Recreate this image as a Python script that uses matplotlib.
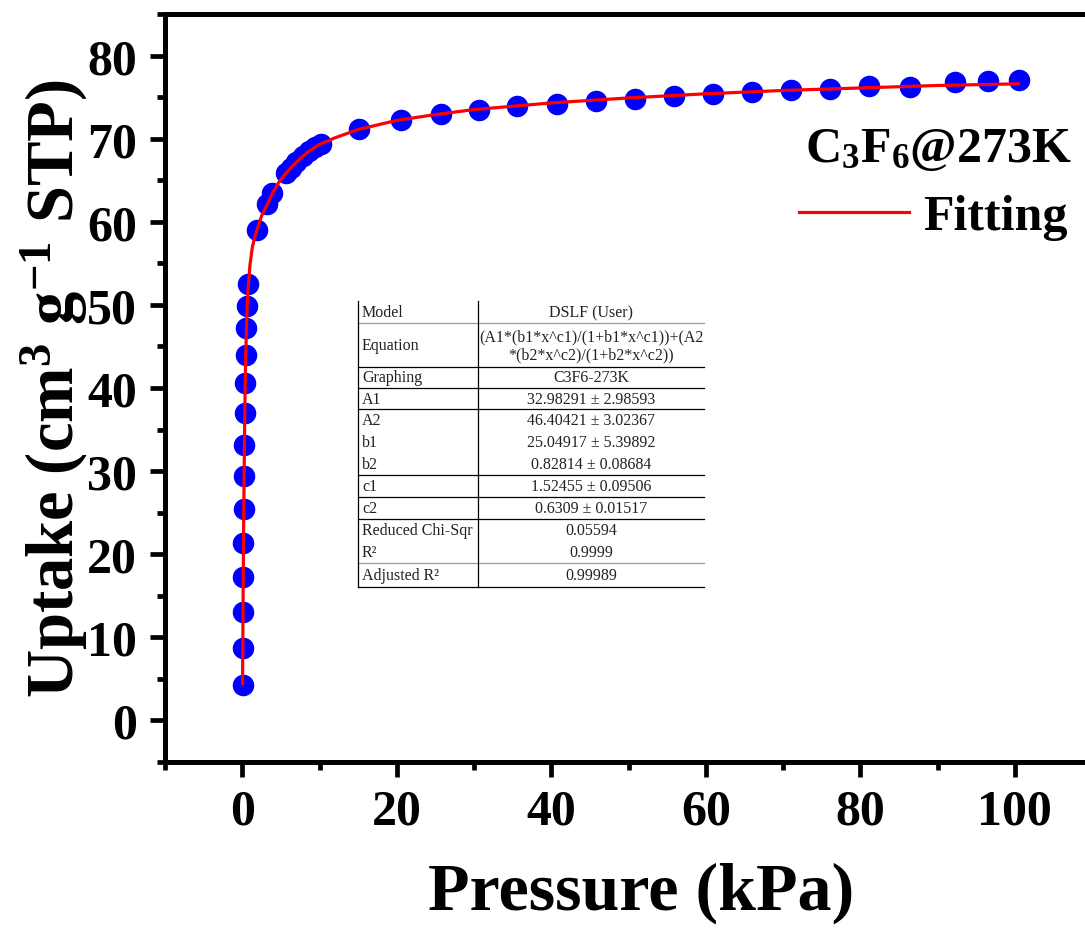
import matplotlib
matplotlib.use("Agg")
import matplotlib.pyplot as plt
from matplotlib.lines import Line2D
from matplotlib.ticker import MultipleLocator

pressure = [0.04, 0.07, 0.1, 0.13, 0.16, 0.2, 0.24, 0.28, 0.33, 0.38, 0.45, 0.55, 0.65, 0.8,
            1.9, 3.2, 3.9, 5.6, 6.3, 7.0, 7.8, 8.7, 9.4, 10.2, 15.1, 20.5, 25.7, 30.7, 35.6,
            40.7, 45.8, 50.8, 55.9, 60.9, 66.0, 71.0, 76.1, 81.1, 86.4, 92.3, 96.5, 100.5]
uptake = [4.3, 8.7, 13.0, 17.2, 21.3, 25.4, 29.4, 33.2, 37.0, 40.6, 44.0, 47.2, 49.9, 52.5,
          59.0, 62.1, 63.5, 65.9, 66.5, 67.2, 67.9, 68.5, 69.0, 69.4, 71.2, 72.2, 73.0, 73.4, 73.9,
          74.2, 74.5, 74.8, 75.1, 75.4, 75.6, 75.8, 76.0, 76.3, 76.2, 76.8, 76.9, 77.0]

# fitted DSLF curve
fit_p = [0.04, 0.07, 0.1, 0.13, 0.16, 0.2, 0.24, 0.28, 0.33, 0.38, 0.45, 0.55, 0.65, 0.8, 1.0,
         1.3, 1.6, 1.9, 2.5, 3.2, 3.9, 4.7, 5.6, 6.5, 7.5, 8.5, 10, 12, 15, 20, 25, 30, 35, 40,
         50, 60, 70, 80, 90, 100.5]
fit_u = [4.4, 8.7, 13.0, 17.2, 21.3, 25.4, 29.4, 33.2, 37.0, 40.6, 44.0, 47.2, 49.9, 52.5, 54.8,
         56.9, 58.1, 59.0, 60.7, 62.0, 63.4, 64.7, 65.8, 66.7, 67.6, 68.4, 69.3, 70.1, 71.1, 72.2,
         72.9, 73.5, 73.9, 74.3, 74.9, 75.4, 75.8, 76.1, 76.4, 76.6]

xticks = [0, 20, 40, 60, 80, 100]
yticks = [0, 10, 20, 30, 40, 50, 60, 70, 80]

table_names = ["Model", "Equation", "Graphing", "A1", "A2", "b1", "b2", "c1", "c2",
               "Reduced Chi-Sqr", "R\u00b2", "Adjusted R\u00b2"]
table_values = ["DSLF (User)", "(A1*(b1*x^c1)/(1+b1*x^c1))+(A2\n*(b2*x^c2)/(1+b2*x^c2))",
                "C3F6-273K", "32.98291 \u00b1 2.98593", "46.40421 \u00b1 3.02367",
                "25.04917 \u00b1 5.39892", "0.82814 \u00b1 0.08684", "1.52455 \u00b1 0.09506",
                "0.6309 \u00b1 0.01517", "0.05594", "0.9999", "0.99989"]

plt.rcParams['font.family'] = ['Liberation Serif', 'DejaVu Serif']
plt.rcParams['font.weight'] = 'bold'
plt.rcParams['mathtext.fontset'] = 'custom'
plt.rcParams['mathtext.rm'] = 'Liberation Serif:bold'
plt.rcParams['mathtext.bf'] = 'Liberation Serif:bold'
plt.rcParams['mathtext.it'] = 'Liberation Serif:bold'

W, H = 1085, 929
fig = plt.figure(figsize=(W / 100, H / 100), dpi=100)
ax = fig.add_axes([165 / W, 1 - 763 / H, (1092 - 165) / W, (763 - 15) / H])

ax.plot(pressure, uptake, 'o', color='#0000ff', markersize=14.5, zorder=2)
fit_line, = ax.plot(fit_p, fit_u, '-', color='#ff0000', linewidth=2.3, zorder=3)

ax.set_xlim(-10, 110)
ax.set_ylim(-5, 85)
ax.set_xticks(xticks)
ax.set_yticks(yticks)
ax.xaxis.set_minor_locator(MultipleLocator(10))
ax.yaxis.set_minor_locator(MultipleLocator(5))
ax.tick_params(which='major', direction='out', length=11, width=3.4, labelsize=36, pad=8)
ax.tick_params(which='minor', direction='out', length=6, width=3.4)
ax.tick_params(axis='y', pad=9)
for s in ax.spines.values():
    s.set_linewidth(3.6)

ax.set_xlabel("Pressure (kPa)", fontsize=49, fontweight='bold')
ax.xaxis.set_label_coords((641 - 165) / 927, -(893 - 763) / 748)
ax.xaxis.label.set_va('center')
ax.set_ylabel("Uptake (cm$^{3}$ g$^{-1}$ STP)", fontsize=48, fontweight='bold')
ax.yaxis.set_label_coords(-(165 - 54) / 927, 0.5)
ax.yaxis.label.set_va('center')

fig.text(1072 / W, 1 - 150 / H, r"C$_{3}$F$_{6}$@273K", fontsize=36, fontweight='bold',
         ha='right', va='center')
ax.legend([fit_line], ["Fitting"], loc='center right', bbox_to_anchor=(1068 / W, 1 - 218 / H),
          bbox_transform=fig.transFigure, frameon=False, fontsize=36, handlelength=2.2,
          handletextpad=0.3, borderaxespad=0, borderpad=0)

# fit report table
def fx(px):
    return px / W

def fy(py):
    return 1 - py / H

x0, xmid, x1 = 358, 478, 704
row_tops = [302, 324, 368, 389, 410, 432, 454, 476, 498, 520, 542, 564, 588]
ruled = {0: '#999999', 1: 'black', 2: 'black', 3: 'black', 6: 'black', 7: 'black',
         8: 'black', 10: '#999999', 11: 'black'}
for i, name in enumerate(table_names):
    yc = (row_tops[i] + row_tops[i + 1]) / 2
    fig.text(fx(x0 + 4), fy(yc), name, fontsize=11.5, fontweight='normal', ha='left',
             va='center', color='#222222')
    fig.text(fx((xmid + x1) / 2), fy(yc), table_values[i], fontsize=11.5, fontweight='normal',
             ha='center', va='center', color='#222222', linespacing=1.15)
    if i in ruled:
        yb = row_tops[i + 1]
        fig.add_artist(Line2D([fx(x0), fx(x1)], [fy(yb), fy(yb)], color=ruled[i], linewidth=0.9))
for xv in (x0, xmid):
    fig.add_artist(Line2D([fx(xv), fx(xv)], [fy(row_tops[0]), fy(row_tops[-1])],
                          color='black', linewidth=0.9))

fig.savefig("out.png", dpi=100)
